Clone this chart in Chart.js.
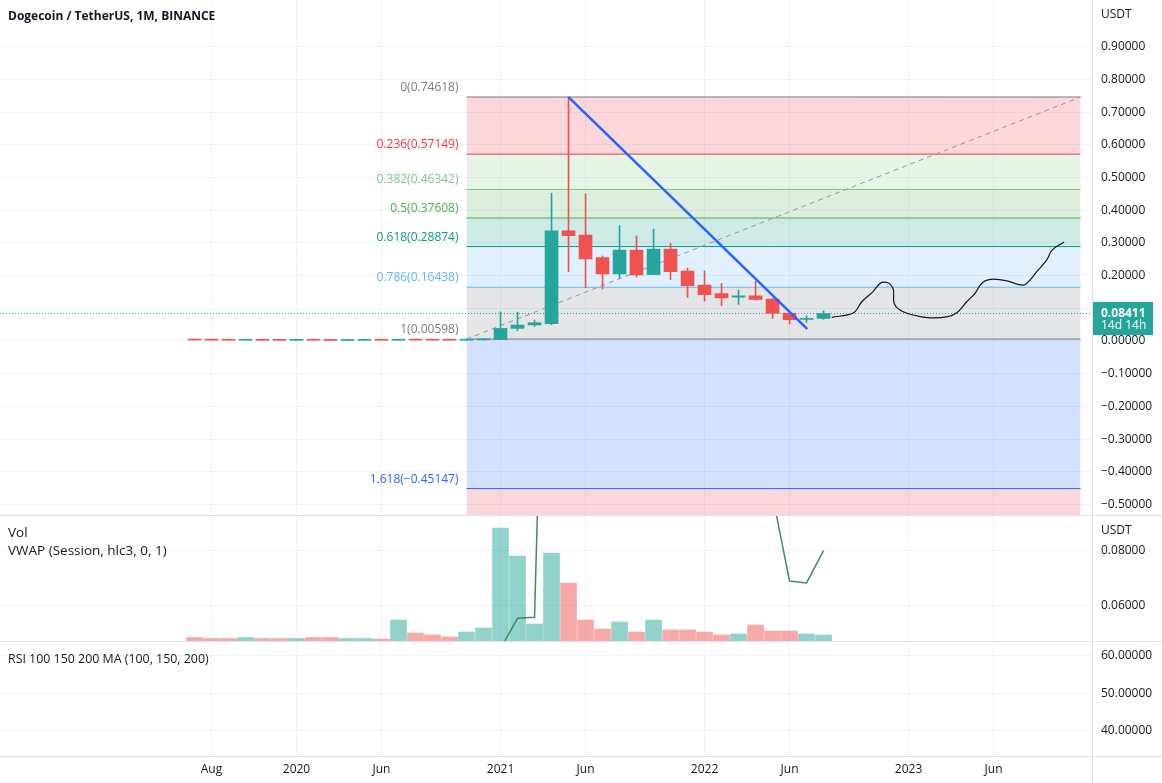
<!DOCTYPE html>
<html><head><meta charset="utf-8">
<script src="https://cdn.jsdelivr.net/npm/chart.js@4.4.1/dist/chart.umd.min.js"></script>
<style>
html,body{margin:0;padding:0;background:#fff;width:1162px;height:783px;overflow:hidden;font-family:"Open Sans",sans-serif;}
canvas{position:absolute;left:0;}
#cPrice{top:0}
#cVol{top:516px}
#cRsi{top:642px}
.sep{position:absolute;background:#e0e3eb;}
.lbl{position:absolute;color:#131722;font-size:13px;white-space:nowrap;line-height:16px;}
.ax{position:absolute;color:#131722;font-size:12px;white-space:nowrap;line-height:14px;left:1101px;}
</style></head><body>
<canvas id="cPrice" width="1162" height="515"></canvas>
<canvas id="cVol" width="1162" height="125"></canvas>
<canvas id="cRsi" width="1162" height="141"></canvas>
<div class="sep" style="left:0;top:515px;width:1162px;height:1px"></div>
<div class="sep" style="left:0;top:641px;width:1162px;height:1px"></div>
<div class="sep" style="left:0;top:756px;width:1162px;height:1px"></div>
<div class="sep" style="left:1092px;top:0;width:1px;height:783px"></div>
<div class="lbl" style="left:8px;top:8px;font-weight:bold;font-size:12px">Dogecoin / TetherUS, 1M, BINANCE</div>
<div class="lbl" style="left:8px;top:524px;font-size:13.5px">Vol</div>
<div class="lbl" style="left:8px;top:542px;font-size:13.5px">VWAP (Session, hlc3, 0, 1)</div>
<div class="lbl" style="left:8px;top:651px;font-size:12.4px">RSI 100 150 200 MA (100, 150, 200)</div>
<div class="ax" style="top:7px">USDT</div>
<div class="ax" style="top:523px">USDT</div>
<script>
// ---------- DATA ----------
const months = ['2019-07','2019-08','2019-09','2019-10','2019-11','2019-12',
  '2020-01','2020-02','2020-03','2020-04','2020-05','2020-06',
  '2020-07','2020-08','2020-09','2020-10','2020-11','2020-12',
  '2021-01','2021-02','2021-03','2021-04','2021-05','2021-06','2021-07','2021-08','2021-09','2021-10','2021-11','2021-12',
  '2022-01','2022-02','2022-03','2022-04','2022-05','2022-06','2022-07','2022-08'];
const opens = [0.0034,0.0030,0.0026,0.0024,0.0027,0.0023,
  0.0020,0.0025,0.0024,0.0019,0.0020,0.0025,
  0.0024,0.0034,0.0029,0.0026,0.0025,0.0034,
  0.0047,0.0385,0.049,0.053,0.337,0.324,0.255,0.205,0.278,0.203,0.281,0.214,
  0.171,0.145,0.134,0.138,0.128,0.085,0.066,0.069];
const highs = [0.0042,0.0032,0.0028,0.0029,0.0029,0.0024,
  0.0026,0.0031,0.0025,0.0021,0.0027,0.0026,
  0.0038,0.0039,0.0030,0.0027,0.0039,0.0075,
  0.089,0.088,0.064,0.452,0.746,0.45,0.26,0.353,0.321,0.342,0.299,0.223,
  0.214,0.176,0.156,0.183,0.131,0.087,0.077,0.092];
const lows = [0.0026,0.0024,0.0022,0.0023,0.0021,0.0019,
  0.0020,0.0023,0.0012,0.0017,0.0019,0.0023,
  0.0023,0.0027,0.0025,0.0024,0.0025,0.0032,
  0.0045,0.032,0.044,0.050,0.212,0.163,0.159,0.192,0.196,0.203,0.188,0.134,
  0.122,0.108,0.112,0.125,0.069,0.052,0.057,0.066];
const closes = [0.0030,0.0026,0.0024,0.0027,0.0023,0.0020,
  0.0025,0.0024,0.0019,0.0020,0.0025,0.0024,
  0.0034,0.0029,0.0026,0.0025,0.0034,0.0047,
  0.0385,0.049,0.056,0.337,0.322,0.251,0.205,0.278,0.202,0.281,0.212,0.169,
  0.142,0.132,0.138,0.127,0.085,0.065,0.069,0.08411];
const volumes = [3.5,2.5,2.5,3.5,2.5,2.5,
  2.5,3.5,3.5,2.5,2.5,2,
  21,8,6,4,9,13,
  113,85,17,88,58,21,12,19,9,21,11,11,
  9,6,7,16,10,10,7,6];
const vwap = [0.0031,0.0027,0.0025,0.0026,0.0024,0.0021,
  0.0023,0.0026,0.0019,0.0019,0.0024,0.0024,
  0.0032,0.0032,0.0027,0.0025,0.0033,0.0059,
  0.0443,0.0554,0.0558,0.281,0.42,0.288,0.208,0.274,0.24,0.275,0.233,0.175,
  0.159,0.139,0.135,0.145,0.100,0.069,0.0683,0.080];

const fibRatios = [0,0.236,0.382,0.5,0.618,0.786,1,1.618,2.618];
const fibPrices = [0.74618,0.57149,0.46342,0.37608,0.28874,0.16438,0.00598,-0.45147,-1.19166];
const fibColors = ['#787b86','#f23645','#81c784','#4caf50','#089981','#64b5f6','#787b86','#2962ff','#f23645'];
const fibSpan = [16, 52.12];             // month index where the retracement starts / ends
const trendX = [22, 36.05];              // blue trend line (month index)
const trendY = [0.746, 0.036];
const fcX = [37.48,38.74,39.25,39.91,40.32,40.62,40.91,41.11,41.15,41.5,42.26,43.26,44.25,44.84,45.42,45.91,46.21,46.5,46.99,47.78,48.74,49.15,49.54,50.13,50.44,51.15];
const fcY = [0.0725,0.0856,0.120,0.151,0.176,0.180,0.174,0.156,0.115,0.095,0.0795,0.071,0.074,0.0865,0.120,0.146,0.171,0.184,0.189,0.184,0.171,0.187,0.212,0.248,0.278,0.303];

const xTickIdx = [1,6,11,18,23,30,35,42,47];
const xTickLabels = ['Aug','2020','Jun','2021','Jun','2022','Jun','2023','Jun'];
const priceTicks = [0.9,0.8,0.7,0.6,0.5,0.4,0.3,0.2,0.1,0,-0.1,-0.2,-0.3,-0.4,-0.5];
const vwapTicks = [0.08,0.06];
const rsiTicks = [60,50,40];
const countdown = '14d 14h';

// ---------- VIEW ----------
const X_MIN = -11.44, X_MAX = 52.79;
const P_MIN = -0.53211, P_MAX = 1.04281;
const V_MIN = 0.04716, V_MAX = 0.09262;
const R_MIN = 33.28, R_MAX = 63.68;
const FONT = '"Open Sans", sans-serif';
const GRID = '#f0f3fa';
const UP = '#26a69a', DOWN = '#ef5350';

Chart.defaults.font.family = FONT;
Chart.defaults.font.size = 12;
Chart.defaults.color = '#131722';
Chart.defaults.animation = false;

function rgba(hex,a){const n=parseInt(hex.slice(1),16);return `rgba(${n>>16&255},${n>>8&255},${n&255},${a})`;}
function fmt(v,d){return (v<0?'\u2212':'')+Math.abs(v).toFixed(d);}
const idx = months.map((m,i)=>i);
const candleCol = idx.map(i=>closes[i]>=opens[i]?UP:DOWN);
const volCol = idx.map(i=>closes[i]>=opens[i]?'rgba(38,166,154,0.5)':'rgba(239,83,80,0.5)');
const lastClose = closes[closes.length-1];

function xAxis(showLabels){
  return {type:'linear',min:X_MIN,max:X_MAX,offset:false,
    grid:{color:GRID,drawTicks:false,offset:false},border:{display:false},
    ticks:{display:showLabels,padding:6,autoSkip:false,maxRotation:0,
      callback:(v,i)=>xTickLabels[i]},
    afterBuildTicks:s=>{s.ticks=xTickIdx.map(v=>({value:v}));},
    afterFit:s=>{s.height=showLabels?27:0;s.paddingLeft=0;s.paddingRight=0;s.paddingTop=0;s.paddingBottom=0;}};
}
function yAxis(min,max,ticks,dec){
  return {position:'right',min,max,
    grid:{color:GRID,drawTicks:false},border:{display:false},
    ticks:{padding:9,callback:v=>fmt(v,dec)},
    afterBuildTicks:s=>{s.ticks=ticks.map(v=>({value:v}));},
    afterFit:s=>{s.width=70;s.paddingTop=0;s.paddingBottom=0;s.paddingLeft=0;s.paddingRight=0;}};
}
const basePlugins = {legend:{display:false},tooltip:{enabled:false}};

// ---------- PRICE PANE ----------
const fibDatasets = fibPrices.map((p,k)=>({
  type:'line',data:[{x:fibSpan[0],y:p},{x:fibSpan[1],y:p}],
  borderColor:fibColors[k],borderWidth:1,pointRadius:0,
  fill:k===0?false:'-1',backgroundColor:rgba(fibColors[k],0.2),order:10}));

const fibLabelPlugin = {id:'fibLabels',
  afterDatasetsDraw(chart){
    const {ctx,scales:{x,y}}=chart;
    ctx.save();
    ctx.font='12px '+FONT;ctx.textAlign='right';ctx.textBaseline='middle';
    const px = x.getPixelForValue(fibSpan[0])-8;
    fibRatios.forEach((r,k)=>{
      ctx.fillStyle=fibColors[k];
      ctx.fillText(r+'('+fmt(fibPrices[k],5)+')',px,y.getPixelForValue(fibPrices[k])-9.5);
    });
    ctx.restore();
  }};
const priceTagPlugin = {id:'priceTag',
  afterDraw(chart){
    const {ctx,scales:{y},chartArea}=chart;
    const py=y.getPixelForValue(lastClose);
    ctx.save();
    ctx.fillStyle=UP;
    ctx.fillRect(chartArea.right+1,Math.round(py-11.5),60,33);
    ctx.fillStyle='#fff';ctx.textBaseline='middle';ctx.textAlign='left';
    ctx.font='bold 12px '+FONT;
    ctx.fillText(lastClose.toFixed(5),chartArea.right+9,py);
    ctx.font='12px '+FONT;
    ctx.fillText(countdown,chartArea.right+9,py+12);
    ctx.restore();
  }};

new Chart(document.getElementById('cPrice'),{
  type:'line',
  data:{datasets:[
    ...fibDatasets,
    {type:'line',data:[{x:fibSpan[0],y:fibPrices[6]},{x:fibSpan[1],y:fibPrices[0]}],
      borderColor:'#9598a1',borderDash:[5,4],borderWidth:1,pointRadius:0,fill:false,order:5},
    {type:'line',data:[{x:X_MIN,y:lastClose},{x:X_MAX,y:lastClose}],
      borderColor:UP,borderDash:[1,2],borderWidth:1,pointRadius:0,fill:false,order:6},
    {type:'bar',data:idx.map(i=>({x:i,y:[lows[i],highs[i]]})),backgroundColor:candleCol,
      barThickness:1,grouped:false,borderWidth:0,order:4},
    {type:'bar',data:idx.map(i=>({x:i,y:[opens[i],closes[i]]})),backgroundColor:candleCol,
      barThickness:13,grouped:false,borderWidth:0,minBarLength:1,order:3},
    {type:'line',data:trendX.map((v,i)=>({x:v,y:trendY[i]})),borderColor:'#2962ff',
      borderWidth:2.5,pointRadius:0,fill:false,order:2},
    {type:'line',data:fcX.map((v,i)=>({x:v,y:fcY[i]})),borderColor:'#131722',
      borderWidth:1.2,pointRadius:0,fill:false,tension:0.35,order:1}
  ]},
  options:{responsive:false,animation:false,devicePixelRatio:1,
    layout:{padding:0},
    plugins:basePlugins,
    scales:{x:xAxis(false),y:yAxis(P_MIN,P_MAX,priceTicks,5)}},
  plugins:[fibLabelPlugin,priceTagPlugin]
});

// ---------- VOLUME / VWAP PANE ----------
new Chart(document.getElementById('cVol'),{
  type:'line',
  data:{datasets:[
    {type:'bar',yAxisID:'yVol',data:idx.map(i=>({x:i,y:volumes[i]})),backgroundColor:volCol,
      barThickness:16,grouped:false,borderWidth:0,order:2},
    {type:'line',yAxisID:'y',data:idx.map(i=>({x:i,y:vwap[i]})),borderColor:'#3d8f5f',
      borderWidth:1.5,pointRadius:0,fill:false,tension:0,order:1}
  ]},
  options:{responsive:false,animation:false,devicePixelRatio:1,layout:{padding:0},
    plugins:basePlugins,
    scales:{x:xAxis(false),y:yAxis(V_MIN,V_MAX,vwapTicks,5),
      yVol:{display:false,min:0,max:125}}}
});

// ---------- RSI PANE ----------
new Chart(document.getElementById('cRsi'),{
  type:'line',
  data:{datasets:[]},
  options:{responsive:false,animation:false,devicePixelRatio:1,layout:{padding:0},
    plugins:basePlugins,
    scales:{x:xAxis(true),y:yAxis(R_MIN,R_MAX,rsiTicks,5)}}
});
</script>
</body></html>
